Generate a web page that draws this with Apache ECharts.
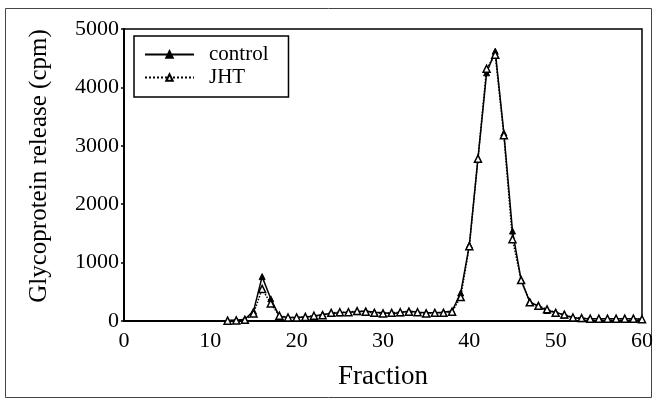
<!DOCTYPE html>
<html>
<head>
<meta charset="utf-8">
<script src="https://cdn.jsdelivr.net/npm/echarts@6/dist/echarts.min.js"></script>
<style>
  html, body { margin: 0; padding: 0; background: #fff; }
  #chart { width: 656px; height: 401px; }
</style>
</head>
<body>
<div id="chart"></div>
<script>
// fractions 12..60
var fractions = [12, 13, 14, 15, 16, 17, 18, 19, 20, 21, 22, 23, 24, 25, 26, 27, 28, 29, 30,
  31, 32, 33, 34, 35, 36, 37, 38, 39, 40, 41, 42, 43, 44, 45, 46, 47, 48, 49, 50,
  51, 52, 53, 54, 55, 56, 57, 58, 59, 60];

var control = [10, 15, 30, 170, 760, 380, 80, 60, 60, 70, 80, 110, 130, 140, 150, 160, 170, 150, 140,
  130, 140, 170, 150, 140, 140, 150, 170, 480, 1300, 2780, 4250, 4620, 3220, 1540, 700, 330, 250, 180, 150,
  100, 60, 40, 40, 40, 40, 40, 40, 40, 30];

var jht = [5, 10, 20, 130, 550, 300, 90, 60, 60, 70, 90, 100, 140, 150, 150, 170, 160, 140, 130,
  140, 150, 160, 150, 130, 140, 140, 160, 410, 1280, 2780, 4320, 4560, 3180, 1400, 700, 320, 260, 200, 140,
  110, 60, 50, 40, 40, 40, 40, 40, 40, 30];

var xTicks = [0, 10, 20, 30, 40, 50, 60];
var yTicks = [0, 1000, 2000, 3000, 4000, 5000];

function pairs(ys) {
  return fractions.map(function (f, i) { return [f, ys[i]]; });
}

var font = 'Liberation Serif';
var chart = echarts.init(document.getElementById('chart'));

var option = {
  animation: false,
  backgroundColor: '#fff',
  textStyle: { fontFamily: font, color: '#000' },
  graphic: [{
    type: 'rect',
    shape: { x: 5.5, y: 8.5, width: 646, height: 389 },
    style: { fill: 'none', stroke: '#444', lineWidth: 1 },
    silent: true
  }],
  grid: {
    left: 124, right: 13, top: 29, bottom: 80,
    show: true, borderColor: '#000', borderWidth: 1.5, backgroundColor: 'transparent'
  },
  legend: {
    orient: 'vertical',
    left: 134, top: 36,
    padding: [7, 20, 8, 10],
    itemGap: 0,
    itemWidth: 49, itemHeight: 8,
    borderColor: '#000', borderWidth: 1.5,
    backgroundColor: '#fff',
    textStyle: { fontFamily: font, fontSize: 21, color: '#000', padding: [0, 0, 0, 10], lineHeight: 23 },
    data: ['control', 'JHT']
  },
  xAxis: {
    type: 'value',
    min: xTicks[0], max: xTicks[xTicks.length - 1], interval: 10,
    name: 'Fraction', nameLocation: 'middle', nameGap: 42,
    nameTextStyle: { fontFamily: font, fontSize: 27, color: '#000' },
    axisLine: { onZero: false, lineStyle: { color: '#000', width: 2 } },
    axisTick: { show: false },
    axisLabel: { fontFamily: font, fontSize: 22, color: '#000', margin: 9 },
    splitLine: { show: false }
  },
  yAxis: {
    type: 'value',
    min: yTicks[0], max: yTicks[yTicks.length - 1], interval: 1000,
    name: 'Glycoprotein release (cpm)', nameLocation: 'middle', nameGap: 72,
    nameTextStyle: { fontFamily: font, fontSize: 25, color: '#000', padding: [0, 0, 0, 18] },
    axisLine: { lineStyle: { color: '#000', width: 2 } },
    axisTick: { show: true, inside: false, length: 3, lineStyle: { color: '#000', width: 1.5 } },
    axisLabel: { fontFamily: font, fontSize: 22, color: '#000', margin: 5, formatter: function (v) { return String(v); } },
    splitLine: { show: false }
  },
  series: [{
    name: 'control',
    type: 'line',
    data: pairs(control),
    symbol: 'triangle',
    symbolSize: 6,
    itemStyle: { color: '#000', borderColor: '#000', borderWidth: 1 },
    lineStyle: { color: '#000', width: 1.5, type: 'solid' },
    z: 3
  }, {
    name: 'JHT',
    type: 'line',
    data: pairs(jht),
    symbol: 'triangle',
    symbolSize: 7,
    itemStyle: { color: '#fff', borderColor: '#000', borderWidth: 1.5 },
    lineStyle: { color: '#000', width: 1.5, type: 'dotted' },
    z: 4
  }]
};

chart.setOption(option);
</script>
</body>
</html>
